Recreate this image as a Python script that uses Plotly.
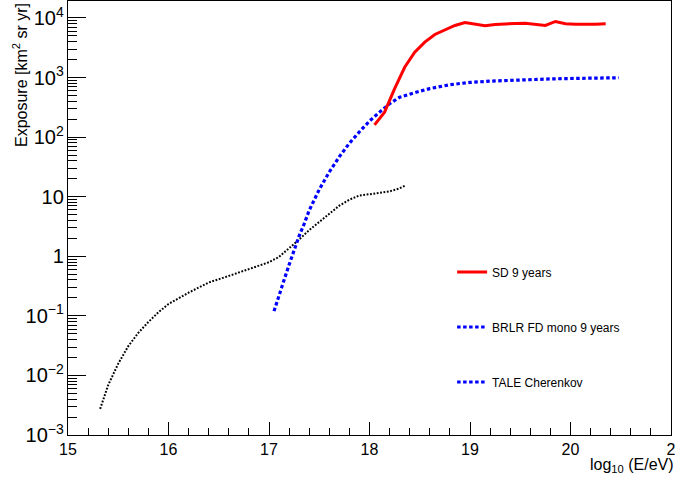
import plotly.graph_objects as go

# ---- data ----
sd_loge = [18.05, 18.15, 18.25, 18.35, 18.45, 18.55, 18.65, 18.75, 18.85, 18.95,
           19.05, 19.15, 19.25, 19.35, 19.45, 19.55, 19.65, 19.75, 19.85, 19.95,
           20.05, 20.15, 20.25, 20.35]
sd_exposure = [161, 262, 650, 1490, 2670, 3930, 5280, 6340, 7480, 8400,
               7780, 7400, 7780, 8000, 8090, 8180, 7780, 7480, 8740, 8000,
               7840, 7780, 7870, 8000]

brlr_loge = [17.05, 17.1, 17.15, 17.2, 17.25, 17.3, 17.35, 17.4, 17.5, 17.6,
             17.7, 17.8, 17.9, 18.0, 18.1, 18.2, 18.3, 18.4, 18.5, 18.6,
             18.7, 18.8, 18.9, 19.0, 19.2, 19.4, 19.6, 19.8, 20.0, 20.2, 20.48]
brlr_exposure = [0.12, 0.21, 0.40, 0.72, 1.3, 2.2, 3.5, 5.9, 13.2, 26,
                 47, 79, 123, 186, 263, 363, 468, 531, 589, 653,
                 708, 757, 794, 828, 871, 902, 927, 948, 964, 977, 993]

tale_loge = [15.32, 15.4, 15.5, 15.6, 15.7, 15.8, 15.9, 16.0, 16.2, 16.4,
             16.6, 16.8, 17.0, 17.1, 17.2, 17.3, 17.4, 17.5, 17.6, 17.7,
             17.8, 17.9, 18.0, 18.1, 18.2, 18.3, 18.36]
tale_exposure = [0.00275, 0.0069, 0.0158, 0.031, 0.052, 0.079, 0.115, 0.158, 0.245, 0.363,
                 0.468, 0.617, 0.794, 0.977, 1.35, 1.91, 2.75, 3.80, 5.25, 7.08,
                 8.91, 10.5, 11.0, 11.5, 12.3, 13.8, 15.5]

legend_names = ["SD 9 years", "BRLR FD mono 9 years", "TALE Cherenkov"]

x_tickvals = [15, 16, 17, 18, 19, 20, 21]
x_ticktext = ["15", "16", "17", "18", "19", "20", "2"]

FONT = "Liberation Sans, Arial, Helvetica, sans-serif"
RED = "#ff0000"
BLUE = "#0000ff"
BLUE_DASH = "3.5px,2.5px"
BLACK_DASH = "1.8px,1.6px"

fig = go.Figure()

fig.add_trace(go.Scatter(x=tale_loge, y=tale_exposure, mode="lines",
                         line=dict(color="black", width=2, dash=BLACK_DASH),
                         showlegend=False))
fig.add_trace(go.Scatter(x=brlr_loge, y=brlr_exposure, mode="lines",
                         line=dict(color=BLUE, width=3.2, dash=BLUE_DASH),
                         showlegend=False))
fig.add_trace(go.Scatter(x=sd_loge, y=sd_exposure, mode="lines",
                         line=dict(color=RED, width=3),
                         showlegend=False))

# legend entries
legend_styles = [dict(color=RED, width=3),
                 dict(color=BLUE, width=3.2, dash=BLUE_DASH),
                 dict(color=BLUE, width=3.2, dash=BLUE_DASH)]
for i, (nm, st) in enumerate(zip(legend_names, legend_styles)):
    fig.add_trace(go.Scatter(x=[None], y=[None], mode="lines", name=nm,
                             line=st, legendgroup=f"g{i}", showlegend=True))

fig.update_layout(
    width=676, height=482,
    margin=dict(l=68, r=5, t=1, b=47, autoexpand=False),
    paper_bgcolor="white", plot_bgcolor="white",
    font=dict(family=FONT, size=16, color="black"),
    showlegend=True,
    legend=dict(x=0.637, y=0.409, xanchor="left", yanchor="top",
                bgcolor="rgba(0,0,0,0)", borderwidth=0,
                font=dict(family=FONT, size=12, color="black"),
                tracegroupgap=36, traceorder="grouped"),
)

fig.update_xaxes(range=[15, 21], showgrid=False, zeroline=False, automargin=False,
                 showline=True, linecolor="black", linewidth=1, mirror=True,
                 ticks="inside", ticklen=13, tickcolor="black", tickwidth=1,
                 tickmode="array", tickvals=x_tickvals, ticktext=x_ticktext,
                 tickfont=dict(family=FONT, size=16),
                 minor=dict(ticks="inside", ticklen=7, tickcolor="black", dtick=0.2, showgrid=False))
fig.update_yaxes(type="log", range=[-3, 4.285], showgrid=False, zeroline=False, automargin=False,
                 showline=True, linecolor="black", linewidth=1, mirror=True,
                 ticks="inside", ticklen=18, tickcolor="black", tickwidth=1,
                 tickmode="linear", tick0=0, dtick=1,
                 exponentformat="power", showexponent="all",
                 tickfont=dict(family=FONT, size=16),
                 minor=dict(ticks="inside", ticklen=9, tickcolor="black", dtick="D1", showgrid=False))

fig.add_annotation(text="Exposure [km<sup>2</sup> sr yr]", xref="paper", yref="paper",
                   x=-0.0796, y=1.0, xanchor="center", yanchor="top", textangle=-90,
                   showarrow=False, font=dict(family=FONT, size=16))
fig.add_annotation(text="log<sub>10</sub> (E/eV)", xref="paper", yref="paper",
                   x=1.008, y=-0.071, xanchor="right", yanchor="middle",
                   showarrow=False, font=dict(family=FONT, size=16))

fig.write_html("out.html", config={"displayModeBar": False},
               post_script="document.body.style.margin='0px';")
